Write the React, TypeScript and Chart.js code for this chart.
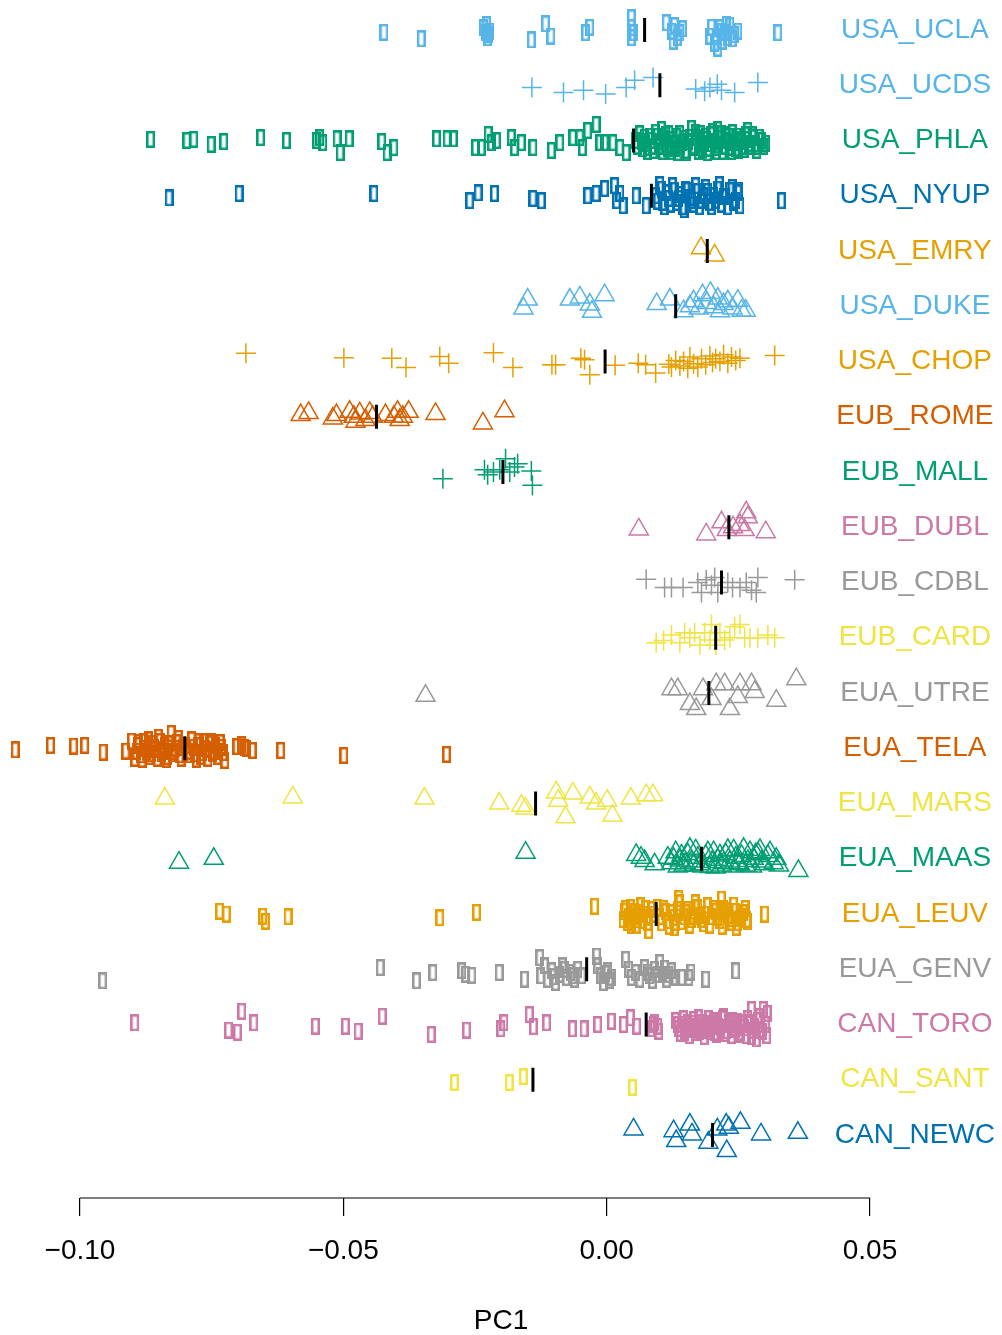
import { useEffect, useRef } from "react";
import { Chart, registerables } from "chart.js";

Chart.register(...registerables);

// Rows, top to bottom
const ROW_NAMES = [
  "USA_UCLA", "USA_UCDS", "USA_PHLA", "USA_NYUP", "USA_EMRY", "USA_DUKE", "USA_CHOP",
  "EUB_ROME", "EUB_MALL", "EUB_DUBL", "EUB_CDBL", "EUB_CARD",
  "EUA_UTRE", "EUA_TELA", "EUA_MARS", "EUA_MAAS", "EUA_LEUV", "EUA_GENV",
  "CAN_TORO", "CAN_SANT", "CAN_NEWC",
];
const ROW_COLORS = [
  "#56B4E9", "#56B4E9", "#009E73", "#0072B2", "#E69F00", "#56B4E9", "#E69F00",
  "#D55E00", "#009E73", "#CC79A7", "#999999", "#F0E442",
  "#999999", "#D55E00", "#F0E442", "#009E73", "#E69F00", "#999999",
  "#CC79A7", "#F0E442", "#0072B2",
];
const ROW_MARKERS = [
  "rect", "cross", "rect", "rect", "triangle", "triangle", "cross",
  "triangle", "cross", "triangle", "cross", "cross",
  "triangle", "rect", "triangle", "triangle", "rect", "rect",
  "rect", "rect", "triangle",
];
// Median PC1 per row (black bars)
const ROW_MEDIANS = [
  0.0072, 0.0101, 0.0051, 0.0085, 0.0191, 0.0131, -0.0003,
  -0.0437, -0.0197, 0.0232, 0.0218, 0.0207,
  0.0194, -0.0801, -0.0135, 0.018, 0.0094, -0.0038,
  0.0075, -0.014, 0.0201,
];
const AXIS_TICKS = [-0.1, -0.05, 0, 0.05];

// Samples: [PC1, vertical jitter in row units]
const USA_UCLA = [
  [-0.0423, 0.04], [-0.0352, 0.16], [-0.0234, -0.04], [-0.023, 0.05], [-0.0226, 0.14], [-0.0222, 0.02],
  [-0.0228, -0.1], [-0.0224, 0.08],
  [-0.0143, 0.18], [-0.0116, -0.11], [-0.0106, 0.11], [-0.004, 0.05], [-0.0032, -0.05],
  [0.0047, -0.22], [0.0047, -0.04], [0.0047, 0.14], [0.0051, 0.05], [0.0113, -0.13], [0.0123, 0.02],
  [0.0126, 0.2], [0.0129, -0.08], [0.0134, 0.14], [0.0139, 0.05], [0.0144, -0.02],
  [0.0196, 0.11], [0.0199, -0.05], [0.0205, 0.24], [0.0208, 0.12], [0.0211, 0.33], [0.0215, -0.04],
  [0.0218, 0.02], [0.0219, 0.2], [0.0224, 0.05], [0.0227, -0.1], [0.023, 0.14], [0.0234, -0.09],
  [0.0239, 0.16], [0.0243, 0.09], [0.0249, 0.02], [0.0325, 0.05],
];
const USA_UCDS = [
  [-0.0142, 0.04], [-0.0082, 0.13], [-0.0044, 0.09], [-0.0002, 0.16], [0.0037, 0.04], [0.0053, -0.09],
  [0.0088, -0.14], [0.0169, 0.07], [0.0186, 0.11], [0.0196, 0.04], [0.021, -0.02], [0.0218, 0.09],
  [0.0243, 0.13], [0.0287, -0.05],
];
const USA_PHLA = [
  [-0.0866, -0.02], [-0.0797, 0], [-0.0784, -0.02], [-0.0751, 0.07], [-0.0727, 0.02], [-0.0657, -0.05],
  [-0.0608, 0], [-0.0551, 0], [-0.0545, -0.05], [-0.0539, 0.04], [-0.0512, -0.03], [-0.0506, 0.22],
  [-0.0489, -0.03], [-0.0427, 0.02], [-0.0417, 0.22], [-0.0404, 0.13], [-0.0323, -0.03], [-0.0303, -0.03],
  [-0.0291, -0.03], [-0.0249, 0.13], [-0.0238, 0.13], [-0.0225, -0.11], [-0.0219, 0.04], [-0.0209, 0],
  [-0.0181, -0.05], [-0.0175, 0.13], [-0.0162, 0.04], [-0.014, 0.13], [-0.0105, 0.18], [-0.0089, 0.04],
  [-0.0064, -0.05], [-0.0051, -0.05], [-0.0046, 0.13], [-0.0036, -0.18], [-0.002, -0.29], [-0.0013, 0.04],
  [-0.0004, 0.04], [0.0012, 0.04], [0.0025, 0.13], [0.0037, 0.22],
  [0.0055, 0], [0.0058, 0.1], [0.0063, -0.12], [0.0066, 0.02], [0.0068, 0.15], [0.0071, -0.06],
  [0.0074, 0.05], [0.0077, 0.12], [0.0078, 0.2], [0.0082, -0.08], [0.0084, 0], [0.0087, 0.1],
  [0.0089, 0.18], [0.0093, -0.15], [0.0096, -0.08], [0.0099, 0.1], [0.0101, 0.02], [0.0104, -0.2],
  [0.0106, 0.2], [0.0108, -0.04], [0.0112, -0.1], [0.0115, 0.14], [0.0118, -0.12], [0.012, 0.08],
  [0.0123, 0.2], [0.0125, -0.02], [0.0128, 0.06], [0.0131, 0.14], [0.0133, -0.08], [0.0135, 0.22],
  [0.0139, -0.12], [0.0141, 0.1], [0.0144, 0.04], [0.0147, -0.04], [0.015, 0.18], [0.0152, 0.22],
  [0.0155, 0.02], [0.0158, -0.06], [0.0161, -0.22], [0.0163, 0.1], [0.0166, 0.12], [0.0169, -0.14],
  [0.0171, -0.06], [0.0174, 0.2], [0.0177, 0], [0.0179, -0.12], [0.0182, 0.16], [0.0185, 0.06],
  [0.0188, -0.08], [0.019, -0.02], [0.0192, 0.22], [0.0194, 0.14], [0.0196, 0.06], [0.0198, -0.1],
  [0.0201, -0.16], [0.0204, 0.02], [0.0207, 0.12], [0.0209, 0.2], [0.0211, -0.2], [0.0213, 0.08],
  [0.0215, -0.04], [0.0218, -0.12], [0.022, 0.2], [0.0223, 0.1], [0.0226, -0.1], [0.0228, 0],
  [0.0232, -0.08], [0.0234, 0.04], [0.0236, 0.12], [0.0237, 0.2], [0.0239, -0.14], [0.0242, 0.04],
  [0.0245, 0.14], [0.0248, -0.08], [0.025, 0.18], [0.0253, -0.02], [0.0256, 0.02], [0.0258, 0.1],
  [0.0261, 0.16], [0.0264, -0.1], [0.0266, -0.02], [0.0268, -0.18], [0.027, 0.1], [0.0272, 0.05],
  [0.0276, -0.1], [0.0279, -0.05], [0.0282, 0.06], [0.0285, 0.18], [0.0287, 0.1], [0.029, -0.06],
  [0.0294, 0], [0.0298, 0.1], [0.0302, 0.05],
];
const USA_NYUP = [
  [-0.0831, 0.04], [-0.0698, -0.04], [-0.0442, -0.04], [-0.026, 0.09], [-0.0244, -0.05], [-0.0213, -0.04],
  [-0.014, 0.05], [-0.0124, 0.09], [-0.0036, 0], [-0.002, -0.04], [-0.0004, -0.13], [0.0015, -0.18],
  [0.0019, 0.09], [0.0025, -0.04], [0.0031, 0.18], [0.0056, 0], [0.0075, 0.18],
  [0.0093, 0], [0.0097, 0.1], [0.0101, -0.2], [0.0104, -0.12], [0.0106, 0.12], [0.011, 0.2],
  [0.0114, -0.05], [0.0118, 0.05], [0.0122, 0.15], [0.0125, -0.18], [0.0129, -0.1], [0.0133, 0.12],
  [0.0137, 0.05], [0.014, -0.02], [0.0144, 0.2], [0.0147, 0.25], [0.015, -0.12], [0.0154, -0.1],
  [0.0158, 0.03], [0.0161, 0.08], [0.0165, 0.15], [0.0169, -0.18], [0.0173, -0.08], [0.0176, 0.2],
  [0.018, 0.08], [0.0184, 0], [0.0188, -0.15], [0.0192, -0.08], [0.0196, 0.12], [0.0199, 0.2],
  [0.0203, 0], [0.0207, 0.08], [0.0211, -0.12], [0.0214, -0.2], [0.0218, 0.15], [0.0222, 0.02],
  [0.0226, 0.02], [0.023, 0.2], [0.0234, -0.1], [0.0238, -0.15], [0.0241, 0.12], [0.0245, 0.08],
  [0.0249, -0.05], [0.0251, -0.1], [0.0253, 0.18], [0.0332, 0.09],
];
const USA_EMRY = [[0.0179, -0.05], [0.0205, 0.08]];
const USA_DUKE = [
  [-0.015, -0.12], [-0.0158, 0.04], [-0.007, -0.12], [-0.0051, -0.16], [-0.0032, -0.03], [-0.0028, 0.1],
  [-0.0004, -0.2], [0.0095, -0.04], [0.012, -0.12], [0.0146, 0.09], [0.0158, 0], [0.0165, -0.09],
  [0.0175, 0.04], [0.0182, -0.2], [0.019, -0.06], [0.0197, -0.24], [0.0203, 0.02], [0.0211, -0.14],
  [0.0215, 0.09], [0.0222, -0.04], [0.023, -0.09], [0.0239, 0.04], [0.0249, -0.1], [0.0256, 0.08],
  [0.0264, 0.08],
];
const USA_CHOP = [
  [-0.0685, -0.15], [-0.0499, -0.07], [-0.0408, -0.06], [-0.0381, 0.11], [-0.0317, -0.09], [-0.03, 0.03],
  [-0.0215, -0.16], [-0.0178, 0.11], [-0.0104, 0.06], [-0.0097, 0.06], [-0.0049, -0.06], [-0.0042, -0.03],
  [-0.0032, 0.24], [0.0016, 0.07], [0.006, 0.03], [0.0074, 0.06], [0.0093, 0.21],
  [0.0118, 0.05], [0.0123, 0.1], [0.0131, -0.02], [0.0139, 0.08], [0.0146, 0], [0.0154, 0.12],
  [0.0158, -0.08], [0.0165, 0.04], [0.0173, 0.1], [0.018, -0.05], [0.0188, 0.06], [0.0196, -0.1],
  [0.0201, 0.02], [0.0207, -0.05], [0.0215, 0], [0.0222, -0.12], [0.023, 0.03], [0.0237, -0.08],
  [0.0245, -0.02], [0.0253, -0.06], [0.0319, -0.11],
];
const EUB_ROME = [
  [-0.0581, -0.03], [-0.0566, -0.07], [-0.052, 0.03], [-0.0513, -0.03], [-0.0488, -0.09], [-0.048, 0],
  [-0.0477, 0.09], [-0.0469, -0.06], [-0.0458, 0.06], [-0.045, -0.07], [-0.0444, 0], [-0.042, -0.03],
  [-0.0404, 0], [-0.0397, -0.09], [-0.0393, 0.06], [-0.0387, 0], [-0.0376, -0.09], [-0.0325, -0.05],
  [-0.0235, 0.12], [-0.0194, -0.1],
];
const EUB_MALL = [
  [-0.0311, 0.12], [-0.0232, -0.04], [-0.0226, 0.05], [-0.0215, 0], [-0.0203, -0.04], [-0.0192, -0.24],
  [-0.0184, 0], [-0.0175, -0.09], [-0.0169, -0.15], [-0.0143, -0.02], [-0.0141, 0.24],
];
const EUB_DUBL = [
  [0.0061, 0.04], [0.0189, 0.13], [0.0218, -0.09], [0.0228, 0.05], [0.024, 0], [0.0253, -0.04],
  [0.0265, -0.27], [0.0268, -0.18], [0.0262, 0.05], [0.0302, 0.09],
];
const EUB_CDBL = [
  [0.0075, -0.06], [0.011, 0.09], [0.0123, 0.09], [0.0145, 0.09], [0.0173, 0], [0.018, 0.18],
  [0.0189, -0.05], [0.0199, 0.05], [0.0205, -0.09], [0.0211, 0.18], [0.023, 0], [0.0239, 0.09],
  [0.0253, 0.09], [0.0265, 0], [0.0275, 0.14], [0.0284, 0.18], [0.0287, -0.09], [0.0357, -0.05],
];
const EUB_CARD = [
  [0.0094, 0.09], [0.0108, 0.05], [0.0123, -0.05], [0.0139, 0.09], [0.0148, -0.09], [0.0158, 0],
  [0.0167, -0.09], [0.0177, 0.13], [0.0186, -0.09], [0.0196, 0.04], [0.0199, -0.24], [0.0207, 0.13],
  [0.0215, -0.09], [0.0224, 0.04], [0.0234, 0], [0.0243, -0.2], [0.0253, -0.24], [0.0262, 0],
  [0.0272, 0], [0.0287, 0], [0.0306, -0.05], [0.0319, 0],
];
const EUA_UTRE = [
  [-0.0344, 0.05], [0.0123, -0.07], [0.0135, -0.07], [0.0158, 0.2], [0.017, 0.29], [0.0183, -0.07],
  [0.0199, 0.11], [0.0208, -0.16], [0.0224, -0.16], [0.0234, 0.29], [0.0249, 0.07], [0.0253, -0.16],
  [0.0275, -0.16], [0.0281, -0.02], [0.0322, 0.14], [0.036, -0.25],
];
const EUA_TELA = [
  [-0.1123, 0.03], [-0.1056, -0.05], [-0.1012, -0.04], [-0.0991, -0.05], [-0.0956, 0.07], [-0.0913, 0.05],
  [-0.0902, -0.13], [-0.0896, 0.18], [-0.0893, 0.05], [-0.0891, -0.05], [-0.0888, -0.1], [-0.0885, 0.12],
  [-0.0882, 0.2], [-0.0879, -0.12], [-0.0876, 0], [-0.0873, 0.05], [-0.087, -0.15], [-0.0868, 0.15],
  [-0.0865, 0.1], [-0.0862, -0.08], [-0.0859, -0.02], [-0.0856, 0.02], [-0.0853, 0.18], [-0.0851, -0.2],
  [-0.0848, -0.12], [-0.0845, 0.1], [-0.0842, 0.05], [-0.0839, -0.05], [-0.0836, 0.2], [-0.0834, 0.15],
  [-0.0831, -0.08], [-0.0827, -0.27], [-0.0825, 0.1], [-0.0822, 0.05], [-0.0819, 0], [-0.0816, -0.1],
  [-0.0813, -0.18], [-0.0811, 0.12], [-0.0808, 0.18], [-0.0805, -0.02], [-0.0799, -0.05], [-0.0794, 0.05],
  [-0.0791, 0.12], [-0.0788, -0.15], [-0.0785, -0.02], [-0.0782, 0.1], [-0.0779, 0.2], [-0.0777, -0.05],
  [-0.0774, -0.12], [-0.0771, 0.15], [-0.0768, 0.08], [-0.0765, -0.12], [-0.0762, 0], [-0.076, 0.02],
  [-0.0757, 0.18], [-0.0754, -0.08], [-0.0751, -0.12], [-0.0748, 0.1], [-0.0745, 0.05], [-0.0742, -0.05],
  [-0.0739, 0.15], [-0.0737, 0.05], [-0.0734, -0.1], [-0.0731, -0.02], [-0.0728, 0.08], [-0.0725, 0.22],
  [-0.0702, -0.03], [-0.0693, -0.06], [-0.0688, -0.02], [-0.0684, 0], [-0.0673, 0.04],
  [-0.0619, 0.04], [-0.0499, 0.13], [-0.0304, 0.11],
];
const EUA_MARS = [
  [-0.0839, -0.09], [-0.0596, -0.11], [-0.0346, -0.09], [-0.0204, 0], [-0.0162, 0.04], [-0.0154, 0.09],
  [-0.0096, -0.2], [-0.0092, -0.05], [-0.0078, 0.25], [-0.0064, -0.18], [-0.0032, -0.11], [-0.002, 0],
  [0.0001, -0.05], [0.0011, 0.22], [0.0046, -0.09], [0.0075, -0.15], [0.0088, -0.15],
];
const EUA_MAAS = [
  [-0.0812, 0.07], [-0.0746, 0], [-0.0154, -0.11], [0.0056, -0.07], [0.0065, -0.02], [0.0072, 0.04],
  [0.0091, 0.1], [0.0116, -0.02], [0.0123, 0.08], [0.0127, 0], [0.0131, -0.12], [0.0135, 0.14],
  [0.0139, 0.03], [0.0142, -0.06], [0.0146, 0.12], [0.015, 0.08], [0.0154, -0.08], [0.0158, -0.18],
  [0.0161, 0.05], [0.0165, 0.12], [0.0169, -0.15], [0.0173, -0.02], [0.0177, 0.1], [0.0182, 0.14],
  [0.0188, -0.05], [0.0192, -0.12], [0.0196, 0.15], [0.02, 0.06], [0.0203, -0.12], [0.0207, 0.16],
  [0.0211, 0.02], [0.0215, -0.06], [0.0218, 0.12], [0.0222, 0.08], [0.0226, -0.08], [0.023, -0.16],
  [0.0234, 0.05], [0.0238, 0.14], [0.0241, -0.15], [0.0245, -0.02], [0.0249, 0.08], [0.0253, 0.1],
  [0.0256, -0.05], [0.026, -0.18], [0.0264, 0.12], [0.0268, 0.04], [0.0272, -0.12], [0.0276, 0.14],
  [0.0279, 0], [0.0283, -0.08], [0.0287, -0.1], [0.0291, -0.16], [0.0294, 0.05], [0.03, 0.1],
  [0.0306, -0.05], [0.031, -0.12], [0.0317, 0.08], [0.0322, 0], [0.0327, 0.12], [0.0364, 0.22],
];
const EUA_LEUV = [
  [-0.0735, -0.05], [-0.0722, 0], [-0.0653, 0.04], [-0.0648, 0.13], [-0.0605, 0.05], [-0.0317, 0.07],
  [-0.0247, -0.03], [-0.0023, -0.14], [0.0031, 0.1], [0.0033, -0.05], [0.0036, -0.1], [0.0039, 0.15],
  [0.0042, 0.05], [0.0045, -0.12], [0.0047, 0.2], [0.005, 0.05], [0.0053, -0.05], [0.0056, 0.2],
  [0.0059, 0.1], [0.0062, -0.02], [0.0065, -0.15], [0.0068, 0.12], [0.007, 0], [0.0073, -0.1],
  [0.0078, 0.15], [0.008, 0.3], [0.008, 0.06], [0.0085, -0.08], [0.0089, 0], [0.0097, -0.12],
  [0.0101, 0.05], [0.0104, 0.16], [0.0108, -0.1], [0.0112, -0.04], [0.0116, 0.12], [0.0119, 0.22],
  [0.0123, -0.02], [0.0127, 0.06], [0.0128, 0.25], [0.0131, 0.15], [0.0135, -0.08], [0.0137, -0.28],
  [0.0139, -0.2], [0.0142, 0.14], [0.0146, 0.05], [0.015, -0.02], [0.0154, -0.08], [0.0158, 0.2],
  [0.0161, 0.1], [0.0165, 0.04], [0.0168, -0.2], [0.0169, -0.12], [0.0173, -0.12], [0.0177, 0.02],
  [0.018, 0.1], [0.0184, 0.18], [0.0188, 0], [0.0192, -0.15], [0.0196, 0.2], [0.0199, 0.05],
  [0.0203, -0.1], [0.0207, -0.05], [0.0211, 0.06], [0.0215, 0.12], [0.0218, -0.27], [0.0219, 0.22],
  [0.0222, -0.1], [0.0226, -0.06], [0.023, 0.03], [0.0234, 0.08], [0.0237, 0.15], [0.0241, -0.16],
  [0.0245, -0.05], [0.0246, 0.24], [0.0249, 0.16], [0.0253, 0.08], [0.0256, 0.04], [0.026, -0.02],
  [0.0263, -0.1], [0.0266, 0.1], [0.0268, 0.14], [0.03, 0],
];
const EUA_GENV = [
  [-0.0957, 0.21], [-0.043, -0.03], [-0.0361, 0.21], [-0.033, 0.06], [-0.0275, 0.03], [-0.0268, 0.09],
  [-0.0256, 0.11], [-0.0204, 0.06], [-0.0156, 0.18], [-0.0127, -0.21], [-0.0125, 0.12], [-0.0118, -0.06],
  [-0.0112, 0.18], [-0.0104, 0.03], [-0.0101, 0.14], [-0.0097, 0.24], [-0.0089, 0.09], [-0.0084, -0.06],
  [-0.008, 0], [-0.0076, 0.15], [-0.0068, 0.06], [-0.0064, 0.12], [-0.0061, 0.18], [-0.0055, 0],
  [-0.0047, 0.12], [-0.0019, -0.24], [-0.0017, -0.06], [-0.0011, 0.12], [-0.0006, 0.24], [-0.0002, 0.08],
  [0.0002, 0.03], [0.0005, 0.2], [0.0009, 0.15], [0.0036, -0.18], [0.0042, 0], [0.0047, 0.15],
  [0.0055, 0.06], [0.0063, 0.18], [0.0072, -0.03], [0.0078, 0.05], [0.0082, 0.12], [0.0087, 0.2],
  [0.0091, 0], [0.0096, 0.1], [0.0101, -0.12], [0.0106, 0.09], [0.011, -0.02], [0.0114, 0.18],
  [0.0118, 0.1], [0.0123, 0.03], [0.0127, 0.15], [0.0131, 0.15], [0.0143, 0.15], [0.0156, 0.15],
  [0.016, 0.05], [0.0188, 0.18], [0.0245, 0.03],
];
const CAN_TORO = [
  [-0.0896, -0.03], [-0.0718, 0.1], [-0.0701, 0.14], [-0.0693, -0.24], [-0.067, -0.03], [-0.0553, 0.03],
  [-0.0496, 0.03], [-0.0472, 0.12], [-0.0426, -0.15], [-0.0333, 0.18], [-0.0266, 0.1], [-0.0201, 0.08],
  [-0.0195, -0.03], [-0.0147, -0.18], [-0.0139, 0.04], [-0.0114, -0.03], [-0.0065, 0.08], [-0.0043, 0.08],
  [-0.0017, 0], [0.0009, -0.06], [0.0032, 0], [0.0045, -0.12], [0.0057, 0.03], [0.0085, 0.08],
  [0.0088, 0], [0.0091, -0.04], [0.0097, 0.03], [0.0099, 0.12],
  [0.0131, -0.07], [0.0135, 0], [0.0137, 0.07], [0.014, 0.16], [0.0142, 0], [0.0146, -0.1],
  [0.0148, 0.14], [0.0152, 0.06], [0.0154, -0.04], [0.0157, 0.2], [0.0159, 0.09], [0.0163, -0.02],
  [0.0165, -0.09], [0.0168, 0.14], [0.0171, 0.04], [0.0174, -0.12], [0.0177, 0.13], [0.018, 0.1],
  [0.0182, -0.04], [0.0185, 0.22], [0.0188, 0.07], [0.0191, -0.02], [0.0194, -0.11], [0.0197, 0.12],
  [0.0199, 0], [0.0202, -0.08], [0.0205, 0.14], [0.0208, 0.18], [0.0211, -0.06], [0.0213, 0.04],
  [0.0216, 0.06], [0.0219, -0.1], [0.0222, -0.14], [0.0225, 0.16], [0.0228, 0.11], [0.0231, -0.04],
  [0.0234, 0], [0.0237, 0.2], [0.0239, -0.07], [0.0242, 0.08], [0.0245, 0.09], [0.0248, -0.06],
  [0.0251, 0.18], [0.0254, 0.14], [0.0256, -0.04], [0.0259, 0], [0.0262, 0.06], [0.0265, 0.2],
  [0.0268, -0.11], [0.027, -0.04], [0.0275, -0.27], [0.0275, 0.22], [0.0278, 0.1], [0.0281, 0.04],
  [0.0284, 0.26], [0.0287, -0.07], [0.029, -0.14], [0.0292, 0.09], [0.0296, 0.12], [0.0297, -0.27],
  [0.0302, 0], [0.0304, 0.2], [0.0305, -0.2],
];
const CAN_SANT = [[-0.0289, 0.05], [-0.0185, 0.05], [-0.0158, -0.06], [0.0049, 0.14]];
const CAN_NEWC = [
  [0.0051, -0.1], [0.0127, -0.07], [0.0132, 0.11], [0.0158, -0.19], [0.0162, -0.01], [0.0193, 0.14],
  [0.021, -0.1], [0.0227, -0.19], [0.0232, -0.13], [0.0228, 0.29], [0.0254, -0.22], [0.0293, -0.01],
  [0.0363, -0.04],
];

const ROW_POINTS = [
  USA_UCLA, USA_UCDS, USA_PHLA, USA_NYUP, USA_EMRY, USA_DUKE, USA_CHOP,
  EUB_ROME, EUB_MALL, EUB_DUBL, EUB_CDBL, EUB_CARD,
  EUA_UTRE, EUA_TELA, EUA_MARS, EUA_MAAS, EUA_LEUV, EUA_GENV,
  CAN_TORO, CAN_SANT, CAN_NEWC,
];

// Scale extents (page is 1002 x 1335)
const X_MIN = -0.11519;
const X_MAX = 0.07506;
const Y_MIN = -0.543;
const Y_MAX = 21.14;
const FONT = "'Liberation Sans', Arial, Helvetica, sans-serif";

function rectMarker(color: string): HTMLCanvasElement {
  const c = document.createElement("canvas");
  c.width = 9;
  c.height = 17;
  const g = c.getContext("2d")!;
  g.strokeStyle = color;
  g.lineWidth = 2.5;
  g.strokeRect(1.25, 1.25, 6.5, 14.5);
  return c;
}

function formatTick(v: number): string {
  const r = Math.round(v * 100) / 100;
  return (r < 0 ? "\u2212" : "") + Math.abs(r).toFixed(2);
}

export default function App() {
  const canvasRef = useRef<HTMLCanvasElement>(null);

  useEffect(() => {
    const canvas = canvasRef.current;
    if (!canvas) return;

    const pointSets: any[] = ROW_POINTS.map((pts, i) => {
      const marker = ROW_MARKERS[i];
      const color = ROW_COLORS[i];
      return {
        type: "scatter",
        label: ROW_NAMES[i],
        order: 1,
        data: pts.map(([x, j]) => ({ x, y: i + j })),
        pointStyle: marker === "rect" ? rectMarker(color) : marker,
        pointRadius: marker === "triangle" ? 11 : marker === "cross" ? 10 : 8,
        pointBorderWidth: marker === "rect" ? 0 : 1.5,
        pointBorderColor: color,
        pointBackgroundColor: "rgba(0,0,0,0)",
      };
    });

    const medianSet = {
      type: "scatter",
      label: "median",
      order: 0,
      data: ROW_MEDIANS.map((x, i) => ({ x, y: i })),
      pointStyle: "line",
      pointRotation: 90,
      pointRadius: 12,
      pointBorderWidth: 3,
      pointBorderColor: "#000000",
    };

    // axis baseline spanning the first to the last tick
    const axisLine = {
      type: "scatter",
      label: "axis",
      order: 2,
      showLine: true,
      clip: false,
      data: [
        { x: AXIS_TICKS[0], y: Y_MAX },
        { x: AXIS_TICKS[AXIS_TICKS.length - 1], y: Y_MAX },
      ],
      borderColor: "#000000",
      borderWidth: 1.2,
      pointRadius: 0,
    };

    const chart = new Chart(canvas, {
      type: "scatter",
      data: { datasets: [medianSet, ...pointSets, axisLine] as any },
      options: {
        animation: false,
        responsive: false,
        events: [],
        layout: { padding: 0, autoPadding: false },
        plugins: {
          legend: { display: false },
          tooltip: { enabled: false },
        },
        scales: {
          x: {
            type: "linear",
            position: "bottom",
            min: X_MIN,
            max: X_MAX,
            afterBuildTicks: (s: any) => {
              s.ticks = AXIS_TICKS.map((v) => ({ value: v }));
            },
            afterFit: (s: any) => {
              s.height = 137;
              s.paddingLeft = 0;
              s.paddingRight = 0;
            },
            border: { display: false },
            grid: {
              drawOnChartArea: false,
              drawTicks: true,
              tickLength: 18,
              color: "#000000",
              lineWidth: 1.2,
            },
            ticks: {
              color: "#000000",
              padding: 18,
              autoSkip: false,
              maxRotation: 0,
              font: { family: FONT, size: 28 },
              callback: (v: any) => formatTick(Number(v)),
            },
            title: {
              display: true,
              text: "PC1",
              color: "#000000",
              font: { family: FONT, size: 28 },
              padding: { top: 0, bottom: -3 },
            },
          },
          y: {
            type: "linear",
            position: "right",
            reverse: true,
            min: Y_MIN,
            max: Y_MAX,
            afterBuildTicks: (s: any) => {
              s.ticks = ROW_NAMES.map((_, i) => ({ value: i }));
            },
            afterFit: (s: any) => {
              s.width = 0;
              s.paddingTop = 0;
              s.paddingBottom = 0;
            },
            border: { display: false },
            grid: { display: false, drawTicks: false },
            ticks: {
              mirror: true,
              crossAlign: "center",
              padding: -7,
              autoSkip: false,
              font: { family: FONT, size: 28 },
              color: (ctx: any) => ROW_COLORS[ctx.index],
              callback: (_v: any, i: number) => ROW_NAMES[i],
            },
          },
        },
      } as any,
    });

    return () => chart.destroy();
  }, []);

  return (
    <div style={{ position: "fixed", left: 0, top: 0, width: 1002, height: 1335, background: "#ffffff" }}>
      <canvas ref={canvasRef} width={1002} height={1335} style={{ display: "block" }} />
    </div>
  );
}
